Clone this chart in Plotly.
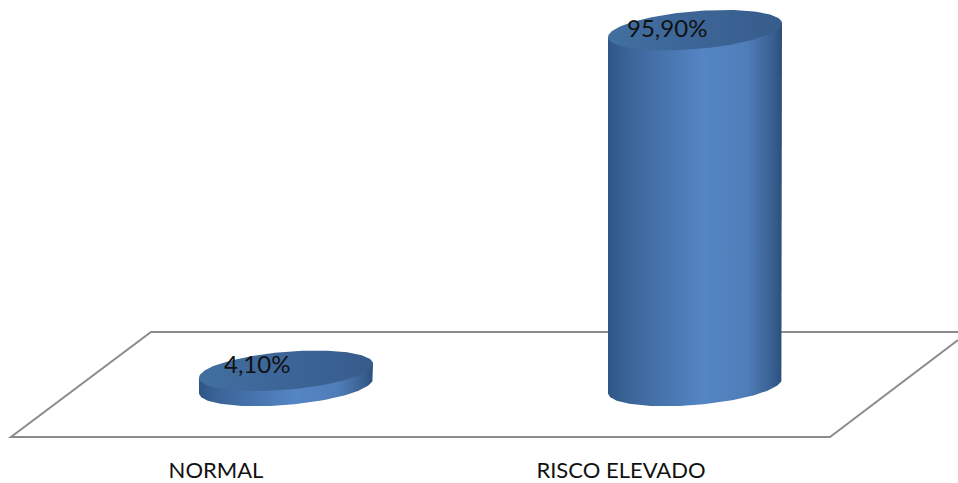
import numpy as np
import plotly.graph_objects as go

categories = ["NORMAL", "RISCO ELEVADO"]
values = [4.1, 95.9]
label_texts = ["4,10%", "95,90%"]

W, H = 958, 483
PLOT_H = 455
PX_PER_UNIT = 3.71
BASE_PX = 386
PX_PER_CAT = 409
CAT0_PX = 286

# cylinder cross-section, in pixels
RX, RY, TILT = 87, 19, 7
label_shift = [(-29, 7), (-28, 3)]
tick_shift_px = [-70, -74]

SIDE = [[0, "#2f5586"], [0.12, "#3c6599"], [0.55, "#5485c4"], [0.8, "#4f7db8"], [0.95, "#385f90"], [1, "#2b4f7c"]]
TOP = [[0, "#41709f"], [0.4, "#3e6799"], [1, "#365c8b"]]

xr = [(0 - CAT0_PX) / PX_PER_CAT, (W - CAT0_PX) / PX_PER_CAT]
yr = [(BASE_PX - PLOT_H) / PX_PER_UNIT, BASE_PX / PX_PER_UNIT]


def ring(center, level, t):
    x = center + RX / PX_PER_CAT * np.cos(t)
    y = level + (TILT * np.cos(t) - RY * np.sin(t)) / PX_PER_UNIT
    return x, y


fig = go.Figure()
for i, v in enumerate(values):
    # body: right edge of the top, down, front arc of the base, up the left edge
    front = np.linspace(0, np.pi, 80)
    bx, by = ring(i, 0, front)
    tx0, ty0 = ring(i, v, np.array([0.0]))
    tx1, ty1 = ring(i, v, np.array([np.pi]))
    fig.add_trace(go.Scatter(
        x=np.concatenate([tx0, bx, tx1, tx0]),
        y=np.concatenate([ty0, by, ty1, ty0]),
        mode="lines", line=dict(width=0), fill="toself",
        fillgradient=dict(type="horizontal", colorscale=SIDE),
        hoverinfo="skip", showlegend=False,
    ))
    # top face
    tx, ty = ring(i, v, np.linspace(0, 2 * np.pi, 160))
    fig.add_trace(go.Scatter(
        x=tx, y=ty, mode="lines", line=dict(width=0), fill="toself",
        fillgradient=dict(type="horizontal", colorscale=TOP),
        hoverinfo="skip", showlegend=False,
    ))
    fig.add_annotation(
        x=i, y=v, text=label_texts[i], showarrow=False,
        xshift=label_shift[i][0], yshift=label_shift[i][1],
        font=dict(family="Lato", size=24, color="#111111"),
    )

# floor of the 3D chart, in paper fractions of the full plot
def px(xp, yp):
    return xp / W, 1 - yp / PLOT_H

floor = [(958, 340), (830, 437), (11, 437), (151, 332), (958, 332)]
path = ""
for n, (a, b) in enumerate(floor):
    pa, pb = px(a, b)
    path += f"{'M' if n == 0 else 'L'} {pa:.5f} {pb:.5f} "
fig.add_shape(type="path", path=path, xref="paper", yref="paper",
              line=dict(color="#8c8c8c", width=2), layer="below")

fig.update_layout(
    width=W, height=H,
    margin=dict(l=0, r=0, t=0, b=H - PLOT_H),
    paper_bgcolor="white", plot_bgcolor="white",
    xaxis=dict(range=xr, showgrid=False, zeroline=False, showline=False, ticks="",
               automargin=False,
               tickmode="array",
               tickvals=[i + s / PX_PER_CAT for i, s in enumerate(tick_shift_px)],
               ticktext=categories,
               tickfont=dict(family="Lato", size=22, color="#111111")),
    yaxis=dict(range=yr, visible=False, automargin=False),
    showlegend=False,
)
fig.write_html("out.html", config=dict(displayModeBar=False),
               post_script="document.body.style.margin='0';document.documentElement.style.overflow='hidden';")
